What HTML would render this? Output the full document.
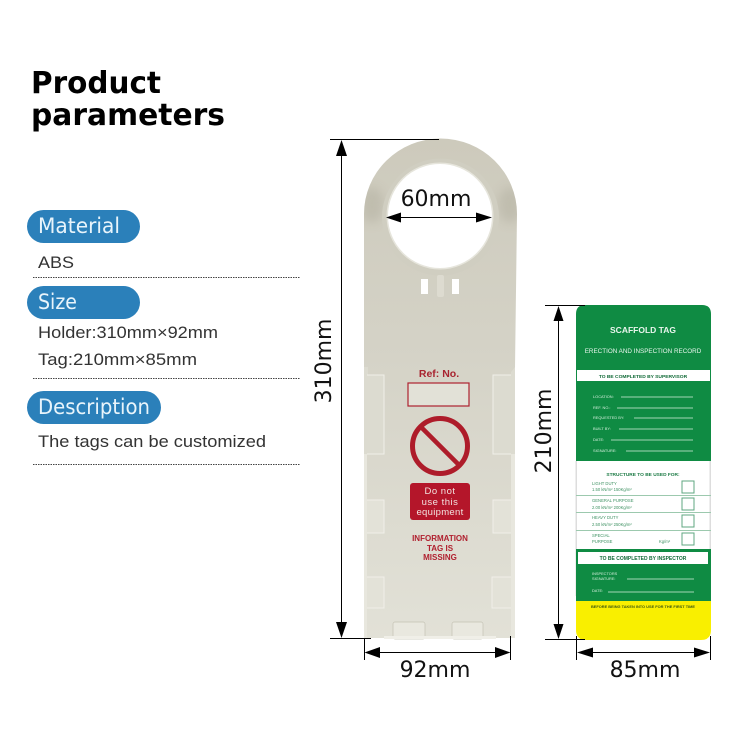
<!DOCTYPE html>
<html><head><meta charset="utf-8"><style>
html,body{margin:0;padding:0;background:#fff}
svg{display:block}
text{font-family:"Liberation Sans",sans-serif}
.d{font-family:"DejaVu Sans",sans-serif;fill:#111}
</style></head><body>
<svg width="750" height="750" viewBox="0 0 750 750" xmlns="http://www.w3.org/2000/svg">
<rect width="750" height="750" fill="#fff"/>
<defs>
<linearGradient id="h" gradientUnits="userSpaceOnUse" x1="0" y1="139" x2="0" y2="638"><stop offset="0" stop-color="#cdcabc"/><stop offset="0.4" stop-color="#d4d2c6"/><stop offset="1" stop-color="#e2e1d7"/></linearGradient>
<filter id="b" x="-50%" y="-50%" width="200%" height="200%"><feGaussianBlur stdDeviation="5"/></filter>
<clipPath id="hc"><path d="M364 214 A76 75 0 0 1 517 214 L515 368 L515 638 L364 638 Z"/></clipPath>
</defs>
<text class="d" x="31" y="93" font-size="30" font-weight="700" style="fill:#000" textLength="130" lengthAdjust="spacingAndGlyphs">Product</text>
<text class="d" x="31" y="125" font-size="30" font-weight="700" style="fill:#000" textLength="194" lengthAdjust="spacingAndGlyphs">parameters</text>

<rect x="27" y="210" width="113" height="33" rx="16.500" fill="#2b80ba"/>
<text class="d" x="38" y="233" font-size="21" style="fill:#e8f4fb" textLength="82" lengthAdjust="spacingAndGlyphs">Material</text>
<text x="38" y="268" font-size="17" fill="#333" textLength="36" lengthAdjust="spacingAndGlyphs">ABS</text>
<line x1="33" y1="277.500" x2="300" y2="277.500" stroke="#444" stroke-dasharray="1.500 1"/>

<rect x="27" y="286" width="113" height="33" rx="16.500" fill="#2b80ba"/>
<text class="d" x="38" y="309" font-size="21" style="fill:#e8f4fb" textLength="39" lengthAdjust="spacingAndGlyphs">Size</text>
<text x="38" y="338" font-size="17" fill="#333" textLength="180" lengthAdjust="spacingAndGlyphs">Holder:310mm×92mm</text>
<text x="38" y="365" font-size="17" fill="#333" textLength="159" lengthAdjust="spacingAndGlyphs">Tag:210mm×85mm</text>
<line x1="33" y1="378.500" x2="300" y2="378.500" stroke="#444" stroke-dasharray="1.500 1"/>

<rect x="27" y="391" width="134" height="33" rx="16.500" fill="#2b80ba"/>
<text class="d" x="38" y="414" font-size="21" style="fill:#e8f4fb" textLength="112" lengthAdjust="spacingAndGlyphs">Description</text>
<text x="38" y="447" font-size="17" fill="#333" textLength="228" lengthAdjust="spacingAndGlyphs">The tags can be customized</text>
<line x1="33" y1="464.500" x2="300" y2="464.500" stroke="#444" stroke-dasharray="1.500 1"/>

<!-- holder -->
<path d="M364 214 A76 75 0 0 1 517 214 L515 368 L515 638 L364 638 Z" fill="url(#h)"/>
<g clip-path="url(#hc)">
<ellipse cx="372" cy="205" rx="12" ry="18" fill="#aeab9b" filter="url(#b)" opacity=".45"/>
<ellipse cx="510" cy="205" rx="12" ry="18" fill="#aeab9b" filter="url(#b)" opacity=".45"/>
</g>
<circle cx="440.500" cy="217" r="58.500" fill="#d0cec1"/>
<circle cx="440" cy="216" r="53.500" fill="#e6e5dc"/>
<circle cx="440" cy="216" r="52" fill="#fff"/>
<rect x="421" y="279" width="7" height="15" fill="#fff"/>
<rect x="452" y="279" width="7" height="15" fill="#fff"/>
<rect x="437" y="275" width="7" height="22" rx="2" fill="#dddbd0"/>

<!-- recess edges and tabs -->
<path d="M364 454 H367 V638 H364 Z" fill="#e8e7de"/>
<path d="M511 454 H515 V638 H511 Z" fill="#e8e7de"/>
<path d="M364 367 L368 367 V375 H384 V454 H364 Z" fill="#dcdbd0"/>
<path d="M515 367 L511 372 V375 H493 V454 H515 Z" fill="#dcdbd0"/>
<path d="M367 500 H384 V533 H367 Z" fill="#e3e2d8"/>
<path d="M367 577 H384 V608 H367 Z" fill="#e3e2d8"/>
<path d="M493 500 H511 V533 H493 Z" fill="#e3e2d8"/>
<path d="M492 577 H511 V608 H492 Z" fill="#e3e2d8"/>
<g fill="none" stroke="#f0efe9" stroke-width="1">
<path d="M367 375 H384 V454 H367"/><path d="M367 500 H384 V533 H367"/><path d="M367 577 H384 V608 H367"/>
<path d="M511 375 H493 V454 H511"/><path d="M511 500 H493 V533 H511"/><path d="M511 577 H492 V608 H511"/>
</g>
<rect x="393" y="622" width="32" height="17" rx="2" fill="#e9e8df" stroke="#c4c2b4" stroke-width=".7"/>
<rect x="452" y="622" width="31" height="17" rx="2" fill="#e9e8df" stroke="#c4c2b4" stroke-width=".7"/>
<rect x="384" y="636" width="112" height="3" fill="#f0efe8"/>

<text x="439" y="377" font-size="10.500" font-weight="700" fill="#a8232f" text-anchor="middle">Ref: No.</text>
<rect x="408" y="383" width="61" height="23" fill="#e2e1d7" stroke="#ae2230" stroke-width="1.200"/>
<circle cx="440" cy="446" r="27.500" fill="none" stroke="#ae1c2a" stroke-width="5"/>
<line x1="421" y1="427" x2="459" y2="465" stroke="#ae1c2a" stroke-width="4.500"/>
<rect x="410" y="483" width="60" height="37" rx="3" fill="#b4162a"/>
<text x="440" y="494" font-size="9.500" fill="#f2e3e0" text-anchor="middle" letter-spacing=".5">Do not</text>
<text x="440" y="505" font-size="9.500" fill="#f2e3e0" text-anchor="middle" letter-spacing=".5">use this</text>
<text x="440" y="515" font-size="9.500" fill="#f2e3e0" text-anchor="middle" letter-spacing=".3">equipment</text>
<g font-size="8" font-weight="700" fill="#b0202f" text-anchor="middle">
<text x="440" y="541">INFORMATION</text>
<text x="440" y="551">TAG IS</text>
<text x="440" y="560">MISSING</text>
</g>

<!-- tag -->
<path d="M576 314 Q576 305 585 305 H702 Q711 305 711 314 V461 H576 Z" fill="#0f8b43"/>
<rect x="576" y="461" width="135" height="89" fill="#fff"/>
<rect x="575.500" y="461" width="1.500" height="135" fill="#ddd"/>
<rect x="709.500" y="461" width="1.500" height="135" fill="#ddd"/>
<rect x="576" y="549" width="135" height="52" fill="#0f8b43"/>
<path d="M576 601 H711 V630 Q711 640 701 640 H586 Q576 640 576 630 Z" fill="#f9ef00"/>
<g fill="#e8f5ec" text-anchor="middle">
<text x="643" y="333" font-size="8.500" font-weight="700">SCAFFOLD TAG</text>
<text x="643" y="353" font-size="6.300">ERECTION AND INSPECTION RECORD</text>
</g>
<rect x="577" y="370" width="133" height="11" fill="#fff"/>
<text x="643" y="378" font-size="4.900" font-weight="700" fill="#126b38" text-anchor="middle">TO BE COMPLETED BY SUPERVISOR</text>
<g font-size="3.900" fill="#d6efdd">
<text x="593" y="398">LOCATION:</text><text x="593" y="409">REF. NO.:</text><text x="593" y="419">REQUESTED BY:</text><text x="593" y="430">BUILT BY:</text><text x="593" y="441">DATE:</text><text x="593" y="452">SIGNATURE:</text>
</g>
<g stroke="#d6efdd" stroke-width=".7">
<line x1="621" y1="397" x2="693" y2="397"/><line x1="617" y1="408" x2="693" y2="408"/><line x1="634" y1="418" x2="693" y2="418"/><line x1="619" y1="429" x2="693" y2="429"/><line x1="611" y1="440" x2="693" y2="440"/><line x1="626" y1="451" x2="693" y2="451"/>
</g>
<text x="643" y="476" font-size="4.800" font-weight="700" fill="#1b7a44" text-anchor="middle">STRUCTURE TO BE USED FOR:</text>
<g font-size="4.200" fill="#3f9263">
<text x="592" y="485">LIGHT DUTY</text><text x="592" y="491">1.50 kN/m² 150Kg/m²</text>
<text x="592" y="502">GENERAL PURPOSE</text><text x="592" y="509">2.00 kN/m² 200Kg/m²</text>
<text x="592" y="519">HEAVY DUTY</text><text x="592" y="526">2.50 kN/m² 250Kg/m²</text>
<text x="592" y="537">SPECIAL</text><text x="592" y="543">PURPOSE</text><text x="659" y="543">Kg/m²</text>
</g>
<g stroke="#9cc9ae" stroke-width="1" fill="none">
<line x1="576" y1="495.500" x2="711" y2="495.500"/><line x1="576" y1="512.500" x2="711" y2="512.500"/><line x1="576" y1="530.500" x2="711" y2="530.500"/>
</g>
<g stroke="#5fa780" stroke-width="1" fill="#fff">
<rect x="682" y="481" width="12" height="12"/><rect x="682" y="498" width="12" height="12"/><rect x="682" y="515" width="12" height="12"/><rect x="682" y="533" width="12" height="12"/>
</g>
<rect x="578" y="552" width="130" height="12" fill="#fff"/>
<text x="643" y="560" font-size="5" font-weight="700" fill="#126b38" text-anchor="middle">TO BE COMPLETED BY INSPECTOR</text>
<g font-size="3.900" fill="#d6efdd">
<text x="592" y="575">INSPECTORS</text><text x="592" y="580">SIGNATURE:</text><text x="592" y="592">DATE:</text>
</g>
<g stroke="#d6efdd" stroke-width=".7">
<line x1="627" y1="579" x2="694" y2="579"/><line x1="608" y1="592" x2="694" y2="592"/>
</g>
<text x="643" y="608" font-size="3.900" font-weight="700" fill="#3c5a12" text-anchor="middle">BEFORE BEING TAKEN INTO USE FOR THE FIRST TIME</text>

<!-- dimensions -->
<g stroke="#000" stroke-width="1" fill="none">
<line x1="330" y1="139.500" x2="439" y2="139.500"/>
<line x1="341.500" y1="150" x2="341.500" y2="628"/>
<line x1="330" y1="638.500" x2="371" y2="638.500"/>
<line x1="364.500" y1="638" x2="364.500" y2="660"/>
<line x1="510.500" y1="636" x2="510.500" y2="660"/>
<line x1="375" y1="652.500" x2="500" y2="652.500"/>
<line x1="545" y1="305.500" x2="585" y2="305.500"/>
<line x1="558.500" y1="315" x2="558.500" y2="630"/>
<line x1="545" y1="639.500" x2="585" y2="639.500"/>
<line x1="576.500" y1="636" x2="576.500" y2="660"/>
<line x1="710.500" y1="636" x2="710.500" y2="660"/>
<line x1="590" y1="652.500" x2="697" y2="652.500"/>
<line x1="395" y1="217.500" x2="485" y2="217.500"/>
</g>
<g fill="#000">
<path d="M341.500 140 L336 156 H347 Z"/>
<path d="M341.500 638 L336 622 H347 Z"/>
<path d="M364.500 652.500 L380 647 V658 Z"/>
<path d="M510.500 652.500 L495 647 V658 Z"/>
<path d="M558.500 306 L553.500 321 H563.500 Z"/>
<path d="M558.500 639 L553.500 624 H563.500 Z"/>
<path d="M577 652.500 L593 647.500 V657.500 Z"/>
<path d="M710 652.500 L694 647.500 V657.500 Z"/>
<path d="M386 217.500 L401 212.500 V222.500 Z"/>
<path d="M492 217.500 L476 212.500 V222.500 Z"/>
</g>
<text class="d" x="436" y="206" font-size="22" text-anchor="middle">60mm</text>
<text class="d" x="435" y="677" font-size="22" text-anchor="middle">92mm</text>
<text class="d" x="645" y="677" font-size="22" text-anchor="middle">85mm</text>
<text class="d" transform="translate(331 361) rotate(-90)" font-size="22" text-anchor="middle">310mm</text>
<text class="d" transform="translate(551 431) rotate(-90)" font-size="22" text-anchor="middle">210mm</text>
</svg>
</body></html>
